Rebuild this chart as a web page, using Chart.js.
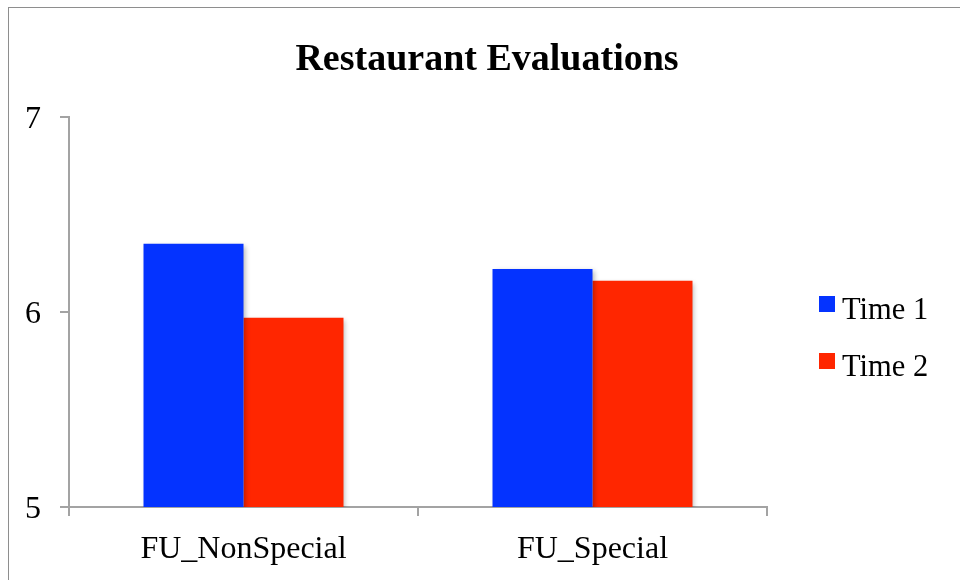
<!DOCTYPE html>
<html>
<head>
<meta charset="utf-8">
<script src="https://cdn.jsdelivr.net/npm/chart.js@4.4.1/dist/chart.umd.min.js"></script>
<style>
  html, body { margin: 0; padding: 0; background: #ffffff; }
  #wrap { width: 960px; height: 580px; position: relative; }
</style>
</head>
<body>
<div id="wrap"><canvas id="chart" width="960" height="580"></canvas></div>
<script>
// Mean evaluation scores by condition
const categories = ['FU_NonSpecial', 'FU_Special'];
const seriesNames = ['Time 1', 'Time 2'];
const time1 = [6.35, 6.22];
const time2 = [5.97, 6.16];
const yTicks = [5, 6, 7];
const chartTitle = 'Restaurant Evaluations';

const SERIF = '"Liberation Serif", "Times New Roman", Times, serif';
const AXIS_GRAY = '#a3a3a3';
const BLUE = '#0433ff';
const RED = '#ff2600';

// Outer frame around the whole chart
const framePlugin = {
  id: 'frame',
  beforeDraw(chart) {
    const ctx = chart.ctx;
    ctx.save();
    ctx.fillStyle = '#ffffff';
    ctx.fillRect(0, 0, chart.width, chart.height);
    ctx.strokeStyle = '#8e8e8e';
    ctx.lineWidth = 1;
    ctx.strokeRect(8.5, 7.5, chart.width + 20, chart.height + 20);
    ctx.restore();
  }
};

// Title centred over the full frame (plot + legend)
const frameTitle = {
  id: 'frameTitle',
  afterDraw(chart) {
    const ctx = chart.ctx;
    ctx.save();
    ctx.font = 'bold 38px ' + SERIF;
    ctx.fillStyle = '#000000';
    ctx.textAlign = 'center';
    ctx.textBaseline = 'alphabetic';
    ctx.fillText(chartTitle, 487, 70);
    ctx.restore();
  }
};

// Soft drop shadow behind the bars
const shadowPlugin = {
  id: 'barShadow',
  beforeDatasetsDraw(chart) {
    const ctx = chart.ctx;
    ctx.save();
    ctx.shadowColor = 'rgba(0,0,0,0.28)';
    ctx.shadowBlur = 5;
    ctx.shadowOffsetX = 2;
    ctx.shadowOffsetY = 2;
  },
  afterDatasetsDraw(chart) {
    chart.ctx.restore();
  }
};

// Legend on the right, stacked vertically
const sideLegend = {
  id: 'sideLegend',
  afterDraw(chart) {
    const ctx = chart.ctx;
    ctx.save();
    ctx.font = '30.5px ' + SERIF;
    ctx.textBaseline = 'alphabetic';
    ctx.textAlign = 'left';
    chart.data.datasets.forEach((ds, i) => {
      const top = 296 + i * 57;
      ctx.fillStyle = ds.backgroundColor;
      ctx.fillRect(819, top, 16, 16);
      ctx.fillStyle = '#000000';
      ctx.fillText(ds.label, 842, top + 23);
    });
    ctx.restore();
  }
};

new Chart(document.getElementById('chart'), {
  type: 'bar',
  data: {
    labels: categories,
    datasets: [
      { label: seriesNames[0], data: time1, backgroundColor: BLUE },
      { label: seriesNames[1], data: time2, backgroundColor: RED }
    ]
  },
  options: {
    responsive: false,
    animation: false,
    devicePixelRatio: 1,
    layout: { padding: { left: 0, right: 193, top: 117, bottom: 0 } },
    datasets: {
      bar: { categoryPercentage: 0.573, barPercentage: 1.0, borderWidth: 0 }
    },
    plugins: {
      legend: { display: false },
      tooltip: { enabled: false },
      title: { display: false }
    },
    scales: {
      x: {
        offset: true,
        grid: {
          offset: true,
          drawOnChartArea: false,
          drawTicks: true,
          tickLength: 9,
          color: AXIS_GRAY,
          lineWidth: 2
        },
        border: { display: true, color: AXIS_GRAY, width: 2 },
        ticks: {
          color: '#000000',
          font: { family: SERIF, size: 32 },
          padding: 14,
          maxRotation: 0
        },
        afterFit(scale) { scale.height = 73; }
      },
      y: {
        min: 5,
        max: 7,
        afterBuildTicks(scale) { scale.ticks = yTicks.map(v => ({ value: v })); },
        grid: {
          drawOnChartArea: false,
          drawTicks: true,
          tickLength: 9,
          color: AXIS_GRAY,
          lineWidth: 2
        },
        border: { display: true, color: AXIS_GRAY, width: 2 },
        ticks: {
          color: '#000000',
          font: { family: SERIF, size: 32 },
          padding: 19,
          labelOffset: 3
        },
        afterFit(scale) { scale.width = 69; }
      }
    }
  },
  plugins: [framePlugin, shadowPlugin, sideLegend, frameTitle]
});
</script>
</body>
</html>
